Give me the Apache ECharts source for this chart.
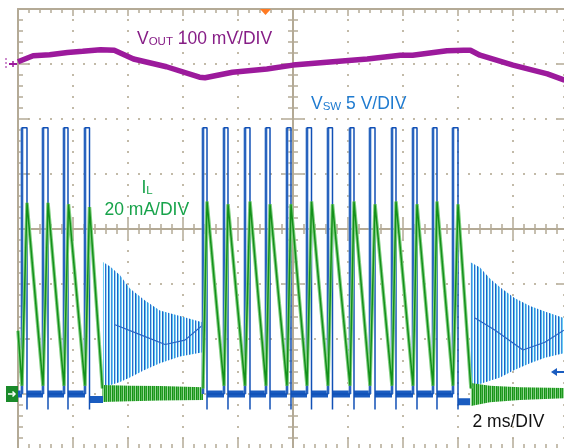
<!DOCTYPE html>
<html><head><meta charset="utf-8">
<script src="https://cdn.jsdelivr.net/npm/echarts@6/dist/echarts.min.js"></script>
<style>html,body{margin:0;padding:0;background:#fff}#c{width:564px;height:448px}</style>
</head><body><div id="c"></div>
<script>
// ---------------- data (time in ms, 2 ms/DIV) ----------------
// VOUT ripple (mV, relative to its channel marker), 100 mV/DIV
const voutT  = [0, 0.55, 1.15, 1.8, 2.35, 3.0, 3.5, 4.2, 5.4, 6.6, 6.8, 7.8, 9.05, 10.0, 11.45, 12.7, 13.9, 14.35, 15.6, 16.2, 16.45, 16.8, 18.0, 19.25, 19.85, 20.0];
const voutMV = [4, 15, 17, 21, 23, 26, 25, 9, -5, -24, -25, -15, -9, -2, 4, 9, 16, 16, 24, 25, 25, 16, -2, -18, -29, -31];

// VSW switching pulses (V), 5 V/DIV
const swRise = [0.145, 0.909, 1.673, 2.436, 6.727, 7.491, 8.255, 9.018, 9.782, 10.509, 11.273, 12.073, 12.8, 13.6, 14.364, 15.091, 15.818];
const swFall = [0.327, 1.091, 1.818, 2.6, 6.873, 7.636, 8.436, 9.164, 9.927, 10.673, 11.436, 12.218, 12.982, 13.745, 14.509, 15.236, 16.0];
const swHighV = 24.2;
const swDipV = -1.4;
const swIdleT0 = [2.6, 16.0];
const swIdleT1 = [3.09, 16.44];
const swIdleV  = [-0.5, -0.7];
// VSW ringing envelopes (V)
const ring1T  = [3.09, 3.35, 3.71, 4.07, 4.62, 5.16, 5.89, 6.73];
const ring1Hi = [12.0, 11.6, 10.8, 9.6, 8.5, 7.6, 7.1, 6.5];
const ring1Lo = [0.7, 0.8, 1.1, 1.5, 2.2, 2.8, 3.4, 3.8];
const ring1MidT = [3.53, 4.44, 5.35, 6.07, 6.73];
const ring1MidV = [6.3, 5.4, 4.5, 4.9, 6.3];
const ring2T  = [16.44, 16.8, 17.16, 17.53, 18.07, 18.62, 19.16, 19.85, 20.0];
const ring2Hi = [12.0, 11.5, 10.5, 9.7, 8.7, 8.0, 7.5, 6.9, 6.8];
const ring2Lo = [0.7, 0.9, 1.2, 1.5, 2.2, 2.8, 3.3, 3.7, 3.8];
const ring2MidT = [16.62, 17.35, 18.36, 19.16, 19.85];
const ring2MidV = [6.9, 5.8, 4.0, 4.7, 5.8];

// IL inductor current (mA), 20 mA/DIV
const ilT1  = [0, 0.145, 0.327, 0.909, 1.091, 1.673, 1.836, 2.436, 2.6, 3.07];
const ilMA1 = [23, 3, 69.5, 3, 69.5, 3, 69, 3, 68, 2];
const ilT2  = [6.727, 6.873, 7.491, 7.636, 8.255, 8.436, 9.018, 9.164, 9.782, 9.927, 10.509, 10.673, 11.273, 11.436, 12.073, 12.218, 12.8, 12.982, 13.6, 13.745, 14.364, 14.509, 15.091, 15.236, 15.818, 16.0, 16.47];
const ilMA2 = [2, 70, 3, 69, 3, 70, 3, 69, 3, 69, 3, 70, 3, 69, 3, 70, 3, 69, 3, 70, 3, 69, 3, 70, 3, 69, 2];
// IL idle ringing bands (mA)
const ilBand1T  = [3.07, 4.07, 5.16, 6.73];
const ilBand1Hi = [3.3, 3.0, 2.9, 2.5];
const ilBand1Lo = [-2.9, -2.6, -2.4, -2.2];
const ilBand2T  = [16.47, 17.16, 18.25, 19.85, 20.0];
const ilBand2Hi = [4.0, 3.0, 2.5, 2.2, 2.2];
const ilBand2Lo = [-4.4, -3.0, -2.2, -1.5, -1.5];

const triggerMs = 9.0;
const triggerV = 2;

// ---------------- styling ----------------
const FONT = '"Liberation Sans", Arial, Helvetica, sans-serif';
const GRID_C = '#b4aa96', DOT_C = '#c2baa8';
const C_VOUT = '#9c1a9c', C_VOUT_TXT = '#861d86';
const C_SW = '#1150b6', C_SW_LIGHT = '#729ed8', C_SW_TXT = '#1f7bd0';
const C_IL = '#13901a', C_IL_LIGHT = '#80cf80', C_IL_TXT = '#17a34a';

function stripes(cols){
  const c = document.createElement('canvas'); c.width = cols.length; c.height = 1;
  const g = c.getContext('2d');
  cols.forEach((col,i)=>{ g.fillStyle = col; g.fillRect(i,0,1,1); });
  return {image: c, repeat: 'repeat'};
}
const ringPattern = stripes(['#1f60c6','#52c4ee','#e8f7fc','#3f8ee0','#6fd0f2','#ffffff','#2a6cd0','#8fdaf4','#f4fbfe']);
const ilPattern = stripes(['#168f16','#52b852','#1f9a1f','#9ad89a']);

function pairs(t, v){ return t.map((x,i)=>[x, v[i]]); }

// build VSW step traces from edge times
const swLine = [], swEdge = [], swLow = [];
for (let i = 0; i < swRise.length; i++) {
  const r = swRise[i], f = swFall[i];
  const newBurst = i === 0 || r - swFall[i-1] > 1;
  if (i === 0) { swLow.push([0,0],[r,0],[r,'-']); }
  else if (!newBurst) { swLow.push([swFall[i-1],0],[r,0],[r,'-']); }
  if (newBurst && i > 0) swLine.push([r,'-']);
  swLine.push([r,0],[r,swHighV],[f,swHighV],[f,swDipV],[f,0]);
  swEdge.push([r,0],[r,swHighV],[r,'-']);
}
swIdleT0.forEach((t,i)=>{ swLow.push([t, swIdleV[i]],[swIdleT1[i], swIdleV[i]],[swIdleT1[i],'-']); });

function frameX(o){
  return Object.assign({type:'value', min:0, max:20, interval:2, gridIndex:0,
    axisLabel:{show:false}, splitLine:{show:false},
    axisLine:{show:true, onZero:false, lineStyle:{color:GRID_C, width:2}},
    axisTick:{show:true, inside:true, length:o.tl, lineStyle:{color:GRID_C, width:1.5}},
    minorTick:{show:true, splitNumber:5, length:o.ml, lineStyle:{color:GRID_C, width:1.5}}}, o.x);
}
function frameY(o){
  return Object.assign({type:'value', min:-4, max:4, interval:1, gridIndex:0,
    axisLabel:{show:false}, splitLine:{show:false},
    axisLine:{show:true, onZero:false, lineStyle:{color:GRID_C, width:2}},
    axisTick:{show:true, inside:true, length:o.tl, lineStyle:{color:GRID_C, width:1.5}},
    minorTick:{show:true, splitNumber:5, length:o.ml, lineStyle:{color:GRID_C, width:1.5}}}, o.x);
}
const dotted = {show:true, lineStyle:{color:DOT_C, width:2, type:[2,9], dashOffset:1}};
function hiddenY(min,max){ return {type:'value', min:min, max:max, show:false, gridIndex:0, splitLine:{show:false}}; }

const chart = echarts.init(document.getElementById('c'), null, {renderer:'canvas'});
const base = {type:'line', xAxisIndex:0, symbol:'none', silent:true, animation:false};
function S(o){ return Object.assign({}, base, o); }
function band(name, yIdx, T, Hi, Lo, fill){
  return {type:'custom', name:name, xAxisIndex:0, yAxisIndex:yIdx, silent:true, animation:false, clip:true,
    data: T.map((t,i)=>[t, Lo[i], Hi[i]]),
    renderItem: function(params, api){
      if (params.dataIndex !== 0) return null;
      const pts = [];
      for (let i = 0; i < T.length; i++) pts.push(api.coord([T[i], Hi[i]]));
      for (let i = T.length - 1; i >= 0; i--) pts.push(api.coord([T[i], Lo[i]]));
      return {type:'polygon', shape:{points:pts}, style:{fill:fill}};
    }};
}

const option = {
  animation:false,
  backgroundColor:'#ffffff',
  grid:{left:18, top:9, width:550, height:440, containLabel:false, outerBoundsMode:'none'},
  xAxis:[
    frameX({tl:11, ml:5, x:{position:'bottom', splitLine:dotted}}),
    frameX({tl:7, ml:4, x:{position:'top'}}),
    frameX({tl:10, ml:5, x:{position:'bottom', offset:-220}}),
    Object.assign(frameX({tl:10, ml:5, x:{position:'bottom', offset:-220}}), {axisTick:{show:true, inside:false, length:10, lineStyle:{color:GRID_C,width:1.5}}})
  ],
  yAxis:[
    frameY({tl:11, ml:5, x:{position:'left', splitLine:dotted}}),
    frameY({tl:10, ml:5, x:{position:'right'}}),
    frameY({tl:10, ml:5, x:{position:'left', offset:-275}}),
    Object.assign(frameY({tl:10, ml:5, x:{position:'left', offset:-275}}), {axisTick:{show:true, inside:false, length:10, lineStyle:{color:GRID_C,width:1.5}}}),
    hiddenY(-5, 35),     // VSW 5 V/DIV
    hiddenY(-20, 140),   // IL 20 mA/DIV
    hiddenY(-700, 100)   // VOUT 100 mV/DIV
  ],
  series:[
    band('ring1', 4, ring1T, ring1Hi, ring1Lo, ringPattern),
    band('ring2', 4, ring2T, ring2Hi, ring2Lo, ringPattern),
    S({name:'ring1Mid', yAxisIndex:4, data:pairs(ring1MidT, ring1MidV), lineStyle:{color:'#2a66c4', width:1.2}}),
    S({name:'ring2Mid', yAxisIndex:4, data:pairs(ring2MidT, ring2MidV), lineStyle:{color:'#2a66c4', width:1.2}}),
    S({name:'swLow', yAxisIndex:4, data:swLow, connectNulls:false, lineStyle:{color:'#1a5cc0', width:7}}),
    S({name:'swEdge', yAxisIndex:4, data:swEdge, connectNulls:false, lineStyle:{color:C_SW_LIGHT, width:3}}),
    S({name:'swLine', yAxisIndex:4, data:swLine, connectNulls:false, lineStyle:{color:C_SW, width:1.5}}),
    band('ilBand1', 5, ilBand1T, ilBand1Hi, ilBand1Lo, ilPattern),
    band('ilBand2', 5, ilBand2T, ilBand2Hi, ilBand2Lo, ilPattern),
    S({name:'il1Glow', yAxisIndex:5, data:pairs(ilT1, ilMA1), lineStyle:{color:C_IL_LIGHT, width:3.5}}),
    S({name:'il2Glow', yAxisIndex:5, data:pairs(ilT2, ilMA2), lineStyle:{color:C_IL_LIGHT, width:3.5}}),
    S({name:'il1', yAxisIndex:5, data:pairs(ilT1, ilMA1), lineStyle:{color:C_IL, width:1.5}}),
    S({name:'il2', yAxisIndex:5, data:pairs(ilT2, ilMA2), lineStyle:{color:C_IL, width:1.5}}),
    S({name:'vout', yAxisIndex:6, data:pairs(voutT, voutMV), lineStyle:{color:C_VOUT, width:5.5}})
  ]
};
chart.setOption(option);

// markers and labels
const yVout0 = chart.convertToPixel({yAxisIndex:6}, 0);
const yGnd = chart.convertToPixel({yAxisIndex:5}, 0);
const yTrig = chart.convertToPixel({yAxisIndex:4}, triggerV);
const xTrig = chart.convertToPixel({xAxisIndex:0}, triggerMs);
function txt(x, y, parts, color){
  const rich = {a:{fontSize:17.5, fontFamily:FONT, fill:color, verticalAlign:'bottom'},
                b:{fontSize:11.5, fontFamily:FONT, fill:color, verticalAlign:'bottom'}};
  return {type:'text', x:x, y:y, z:50, silent:true,
    style:{text:parts, rich:rich, fill:color, font:'17.5px '+FONT, verticalAlign:'bottom', align:'left'}};
}
chart.setOption({graphic:[
  txt(137, 47.7, '{a|V}{b|OUT}{a| 100 mV/DIV}', C_VOUT_TXT),
  txt(311, 112.7, '{a|V}{b|SW}{a| 5 V/DIV}', C_SW_TXT),
  txt(141.5, 196.7, '{a|I}{b|L}', C_IL_TXT),
  txt(104.5, 218.7, '{a|20 mA/DIV}', C_IL_TXT),
  txt(472.5, 430.7, '{a|2 ms/DIV}', '#111111'),
  // VOUT channel marker
  {type:'line', z:50, shape:{x1:6, y1:yVout0-6, x2:6, y2:yVout0+6}, style:{stroke:C_VOUT, lineWidth:1, lineDash:[2,2]}},
  {type:'line', z:50, shape:{x1:9, y1:yVout0, x2:17, y2:yVout0}, style:{stroke:C_VOUT, lineWidth:2}},
  {type:'line', z:50, shape:{x1:13, y1:yVout0-3, x2:13, y2:yVout0+3}, style:{stroke:C_VOUT, lineWidth:1.5}},
  // IL / VSW ground marker
  {type:'rect', z:50, shape:{x:6, y:yGnd-8, width:12, height:16}, style:{fill:'#1a8a2a'}},
  {type:'line', z:51, shape:{x1:8, y1:yGnd, x2:15, y2:yGnd}, style:{stroke:'#ffffff', lineWidth:1.5}},
  {type:'polyline', z:51, shape:{points:[[12.5,yGnd-2.5],[15,yGnd],[12.5,yGnd+2.5]]}, style:{stroke:'#ffffff', lineWidth:1.5, fill:null}},
  // trigger level marker
  {type:'line', z:50, shape:{x1:555, y1:yTrig, x2:564, y2:yTrig}, style:{stroke:'#1a5cc0', lineWidth:2}},
  {type:'polygon', z:50, shape:{points:[[551,yTrig],[557,yTrig-4],[557,yTrig+4]]}, style:{fill:'#1a5cc0'}},
  // trigger position marker
  {type:'polygon', z:50, shape:{points:[[xTrig-5.5,9],[xTrig+5.5,9],[xTrig,15]]}, style:{fill:'#ff7a22'}}
]});
</script></body></html>
